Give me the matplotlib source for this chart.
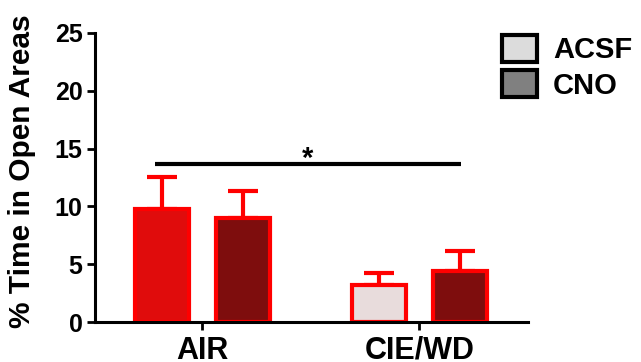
import matplotlib
matplotlib.use("Agg")
import matplotlib.pyplot as plt
from matplotlib.patches import Patch

plt.rcParams["font.family"] = ["Liberation Sans", "DejaVu Sans"]
plt.rcParams["font.weight"] = "bold"

groups = ["AIR", "CIE/WD"]
treatments = ["ACSF", "CNO"]
acsf_means = [9.8, 3.2]
acsf_err = [2.75, 1.0]
cno_means = [9.0, 4.4]
cno_err = [2.3, 1.7]
acsf_fill = ["#e00c0c", "#e8dcdc"]
cno_fill = ["#7e0d0d", "#7e0d0d"]
sig_span = [-0.22, 1.19]
sig_y = 13.7

W, H = 641, 362
fig = plt.figure(figsize=(W / 100, H / 100), dpi=100)
ax = fig.add_axes([95 / W, 1 - 322 / H, (528 - 95) / W, (322 - 33) / H])

x = [0, 1]
off = 0.1875
bw = 0.25
for xs, means, errs, fills in [
    ([i - off for i in x], acsf_means, acsf_err, acsf_fill),
    ([i + off for i in x], cno_means, cno_err, cno_fill),
]:
    ax.errorbar(xs, means, yerr=[[0] * len(errs), errs], fmt="none",
                ecolor="#ff0000", elinewidth=3, capsize=11, capthick=3, zorder=1)
    ax.bar(xs, means, width=bw, color=fills, edgecolor="#ff0000",
           linewidth=3, zorder=2)

ax.plot(sig_span, [sig_y, sig_y], color="black", lw=3, solid_capstyle="butt",
        clip_on=False)
ax.text(sum(sig_span) / 2, sig_y - 0.3, "*", ha="center", va="baseline",
        fontsize=21, fontweight="bold")

ax.set_xlim(-0.495, 1.5)
ax.set_ylim(0, 25)
ax.set_yticks([0, 5, 10, 15, 20, 25])
ax.set_xticks(x)
ax.set_xticklabels(groups, fontsize=22, fontweight="bold")
for lab in ax.get_yticklabels():
    lab.set_fontsize(18)
    lab.set_fontweight("bold")
ax.tick_params(axis="both", width=2, length=6, color="black")
ax.tick_params(axis="y", pad=3)
ax.tick_params(axis="x", pad=4)
for s in ["top", "right"]:
    ax.spines[s].set_visible(False)
for s in ["left", "bottom"]:
    ax.spines[s].set_linewidth(2.2)

fig.text(22 / W, 1 - 171 / H, "% Time in Open Areas", rotation=90,
         ha="center", va="center", fontsize=21.5, fontweight="bold")

handles = [
    Patch(facecolor="#dcdcdc", edgecolor="black", linewidth=3),
    Patch(facecolor="#808080", edgecolor="black", linewidth=3),
]
fig.legend(handles, treatments, loc="upper left",
           bbox_to_anchor=(502 / W, 1 - 35 / H), frameon=False,
           borderpad=0, borderaxespad=0, handlelength=1.2, handleheight=1.05,
           handletextpad=0.55, labelspacing=0.2,
           prop={"size": 21, "weight": "bold"})

fig.savefig("out.png", dpi=100)
